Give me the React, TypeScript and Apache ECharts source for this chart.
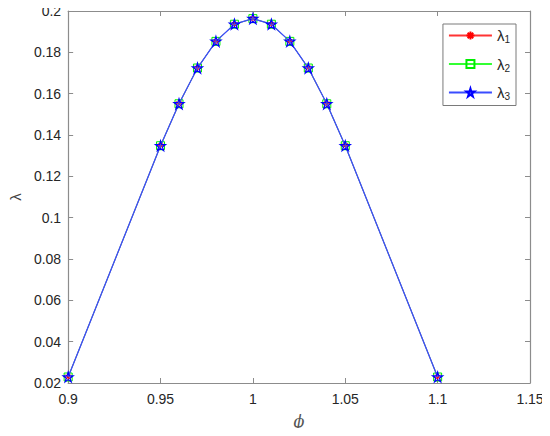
import React, { useEffect, useRef } from "react";
import * as echarts from "echarts";

const phi = [0.9, 0.95, 0.96, 0.97, 0.98, 0.99, 1.0, 1.01, 1.02, 1.03, 1.04, 1.05, 1.1];
const lambda1 = [0.0229, 0.1348, 0.1551, 0.1724, 0.1853, 0.1936, 0.1963, 0.1936, 0.1853, 0.1724, 0.1551, 0.1348, 0.0229];
const lambda2 = [0.0229, 0.1348, 0.1551, 0.1724, 0.1853, 0.1936, 0.1963, 0.1936, 0.1853, 0.1724, 0.1551, 0.1348, 0.0229];
const lambda3 = [0.0229, 0.1348, 0.1551, 0.1724, 0.1853, 0.1936, 0.1963, 0.1936, 0.1853, 0.1724, 0.1551, 0.1348, 0.0229];
const seriesNames = ["λ1", "λ2", "λ3"];

const STAR =
  "path://M50,0L61.2,34.5L97.6,34.5L68.2,55.9L79.4,90.5L50,69.1L20.6,90.5L31.8,55.9L2.4,34.5L38.8,34.5Z";
const ASTER =
  "path://M50,0L50,100M0,50L100,50M15,15L85,85M15,85L85,15";

const AXIS_COLOR = "#8c8c8c";
const TEXT_COLOR = "#262626";
const FONT = "'Liberation Sans', Arial, sans-serif";

export default function App() {
  const ref = useRef<HTMLDivElement>(null);
  useEffect(() => {
    if (!ref.current) return;
    const chart = echarts.init(ref.current, undefined, { renderer: "svg" });
    const zip = (ys: number[]) => phi.map((x, i) => [x, ys[i]]);
    const axisCommon = {
      axisLine: { show: true, lineStyle: { color: AXIS_COLOR, width: 1.2 } },
      axisTick: { show: true, inside: true, length: 5, lineStyle: { color: AXIS_COLOR } },
      splitLine: { show: false },
    };
    chart.setOption({
      animation: false,
      backgroundColor: "#ffffff",
      textStyle: { fontFamily: FONT },
      grid: { left: 59, right: 20, top: 11, bottom: 53, containLabel: false },
      xAxis: [
        {
          type: "value",
          min: 0.9,
          max: 1.15,
          interval: 0.05,
          position: "bottom",
          name: "ϕ",
          nameLocation: "middle",
          nameGap: 30,
          nameTextStyle: { fontSize: 16, fontStyle: "italic", color: "#555555", fontFamily: "'DejaVu Serif', serif" },
          axisLabel: { color: TEXT_COLOR, fontSize: 14, margin: 9, fontFamily: FONT },
          ...axisCommon,
        },
        {
          type: "value",
          min: 0.9,
          max: 1.15,
          interval: 0.05,
          position: "top",
          axisLabel: { show: false },
          ...axisCommon,
        },
      ],
      yAxis: [
        {
          type: "value",
          min: 0.02,
          max: 0.2,
          interval: 0.02,
          position: "left",
          name: "λ",
          nameLocation: "middle",
          nameGap: 43,
          nameRotate: 90,
          nameTextStyle: { fontSize: 15, color: "#444444", fontFamily: FONT },
          axisLabel: { color: TEXT_COLOR, fontSize: 14, margin: 7, fontFamily: FONT },
          ...axisCommon,
        },
        {
          type: "value",
          min: 0.02,
          max: 0.2,
          interval: 0.02,
          position: "right",
          axisLabel: { show: false },
          ...axisCommon,
        },
      ],
      legend: {
        orient: "vertical",
        right: 34,
        top: 24,
        backgroundColor: "#ffffff",
        borderColor: "#7a7a7a",
        borderWidth: 1,
        padding: [4, 6, 4, 5],
        itemWidth: 43,
        itemHeight: 10,
        itemGap: 12,
        data: seriesNames,
        formatter: (name: string) => `{a|λ}{s|${name.slice(1)}}`,
        textStyle: {
          color: TEXT_COLOR,
          rich: {
            a: { fontSize: 15, color: TEXT_COLOR, fontFamily: FONT },
            s: { fontSize: 10, color: TEXT_COLOR, fontFamily: FONT, verticalAlign: "bottom", padding: [8, 0, 0, 0] },
          },
        },
      },
      series: [
        {
          name: seriesNames[0],
          type: "line",
          data: zip(lambda1),
          symbol: ASTER,
          symbolSize: 7,
          showAllSymbol: true,
          lineStyle: { color: "#ff3333", width: 0.8 },
          itemStyle: { color: "none", borderColor: "#ff0000", borderWidth: 1 },
          z: 2,
        },
        {
          name: seriesNames[1],
          type: "line",
          data: zip(lambda2),
          symbol: "rect",
          symbolSize: 8,
          showAllSymbol: true,
          lineStyle: { color: "#33ff33", width: 0.8 },
          itemStyle: { color: "none", borderColor: "#00ee00", borderWidth: 1 },
          z: 3,
        },
        {
          name: seriesNames[2],
          type: "line",
          data: zip(lambda3),
          symbol: STAR,
          symbolSize: 10,
          showAllSymbol: true,
          lineStyle: { color: "#3a4cff", width: 1.3 },
          itemStyle: { color: "none", borderColor: "#0000ff", borderWidth: 1.2 },
          z: 4,
        },
      ],
    });
    return () => chart.dispose();
  }, []);
  return <div ref={ref} style={{ width: 550, height: 436, margin: -8 }} />;
}
